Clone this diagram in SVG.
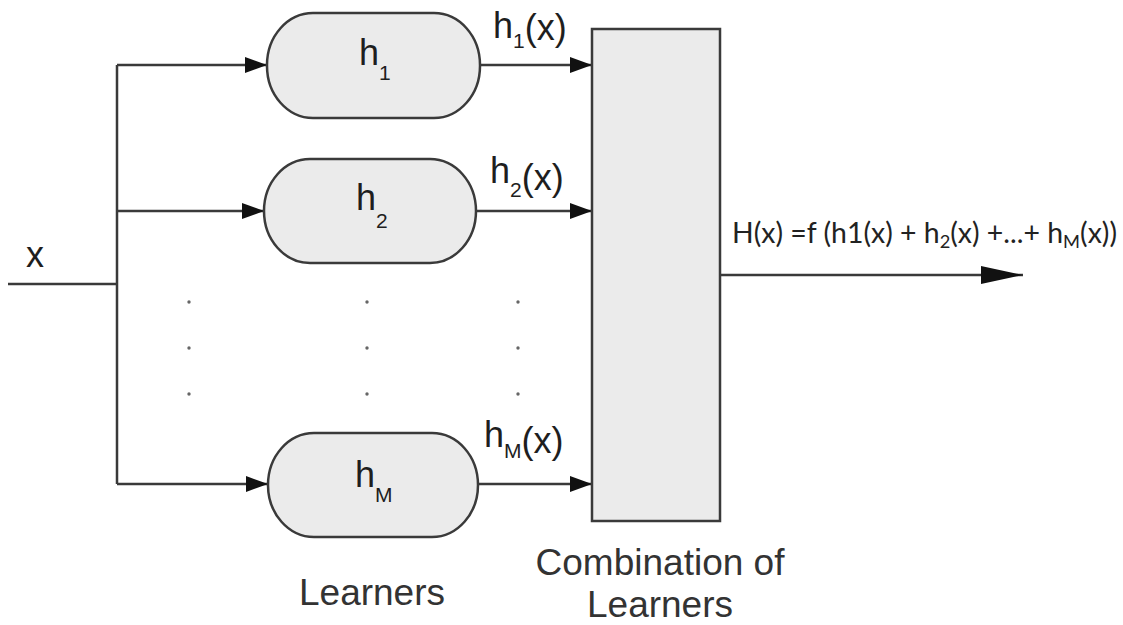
<svg xmlns="http://www.w3.org/2000/svg" width="1123" height="625" viewBox="0 0 1123 625">
  <defs>
    <marker id="arr" markerUnits="userSpaceOnUse" markerWidth="24" markerHeight="16" refX="22" refY="8" orient="auto">
      <path d="M0,0 L22,8 L0,16 Z" fill="#111"/>
    </marker>
    <marker id="arrBig" markerUnits="userSpaceOnUse" markerWidth="44" markerHeight="20" refX="42" refY="10" orient="auto">
      <path d="M0,1 L42,10 L0,19 Z" fill="#111"/>
    </marker>
  </defs>
  <style>
    .ln { stroke: #3a3a3a; stroke-width: 2.5; fill: none; }
    .box { fill: #ebebeb; stroke: #3a3a3a; stroke-width: 2.5; }
    .t { font-family: "Liberation Sans", Arial, sans-serif; fill: #1e1e1e; }
    .lab { font-family: "Liberation Sans", Arial, sans-serif; fill: #333; }
    .dot { fill: #666; }
    .f { font-family: Lato, "Open Sans", sans-serif; fill: #222; }
  </style>
  <rect width="1123" height="625" fill="#fff"/>

  <g id="connectors">
    <path class="ln" d="M8,284 H117"/>
    <path class="ln" d="M117,65 V484"/>
    <path class="ln" d="M117,65 H267" marker-end="url(#arr)"/>
    <path class="ln" d="M117,211 H264" marker-end="url(#arr)"/>
    <path class="ln" d="M117,484 H268" marker-end="url(#arr)"/>
    <path class="ln" d="M480,65 H592" marker-end="url(#arr)"/>
    <path class="ln" d="M476,211 H592" marker-end="url(#arr)"/>
    <path class="ln" d="M478,484 H592" marker-end="url(#arr)"/>
    <path class="ln" d="M720,275 H1023" marker-end="url(#arrBig)"/>
  </g>

  <g id="input-label">
    <text class="t" x="26" y="267" font-size="36">x</text>
  </g>

  <g id="h1">
    <rect class="box" x="267" y="13" width="213" height="105" rx="46" ry="52"/>
    <text class="t" x="359" y="65" font-size="36">h<tspan font-size="21" dy="15">1</tspan></text>
  </g>
  <g id="h2">
    <rect class="box" x="264" y="159" width="212" height="104" rx="46" ry="52"/>
    <text class="t" x="356" y="210" font-size="36">h<tspan font-size="21" dy="18">2</tspan></text>
  </g>
  <g id="hM">
    <rect class="box" x="268" y="433" width="210" height="104" rx="46" ry="52"/>
    <text class="t" x="355" y="487" font-size="36">h<tspan font-size="21" dy="15">M</tspan></text>
  </g>

  <g id="dots">
    <circle class="dot" cx="189" cy="302" r="1.7"/>
    <circle class="dot" cx="367" cy="302" r="1.7"/>
    <circle class="dot" cx="518" cy="302" r="1.7"/>
    <circle class="dot" cx="189" cy="348" r="1.7"/>
    <circle class="dot" cx="367" cy="348" r="1.7"/>
    <circle class="dot" cx="518" cy="348" r="1.7"/>
    <circle class="dot" cx="189" cy="394" r="1.7"/>
    <circle class="dot" cx="367" cy="394" r="1.7"/>
    <circle class="dot" cx="518" cy="394" r="1.7"/>
  </g>

  <g id="edge-labels">
    <text class="t" x="493" y="38" font-size="36">h<tspan font-size="21" dy="10">1</tspan><tspan dy="-8">(x)</tspan></text>
    <text class="t" x="490" y="183" font-size="36">h<tspan font-size="21" dy="14">2</tspan><tspan dy="-7">(x)</tspan></text>
    <text class="t" x="484" y="447" font-size="36">h<tspan font-size="21" dy="11">M</tspan><tspan dy="-5">(x)</tspan></text>
  </g>

  <g id="combination">
    <rect class="box" x="592" y="29" width="128" height="492"/>
    <text class="lab" x="660" y="575" font-size="37" text-anchor="middle">Combination of</text>
    <text class="lab" x="660" y="617" font-size="37" text-anchor="middle">Learners</text>
  </g>

  <g id="learners-label">
    <text class="lab" x="372" y="605" font-size="37" text-anchor="middle">Learners</text>
  </g>

  <g id="output-label">
    <text class="f" x="732" y="243" font-size="28" textLength="385" lengthAdjust="spacingAndGlyphs">H(x) =f (h1(x) + h<tspan font-size="18" dy="5">2</tspan><tspan dy="-5">(x) +...+ h</tspan><tspan font-size="18" dy="5">M</tspan><tspan dy="-5">(x))</tspan></text>
  </g>
</svg>
